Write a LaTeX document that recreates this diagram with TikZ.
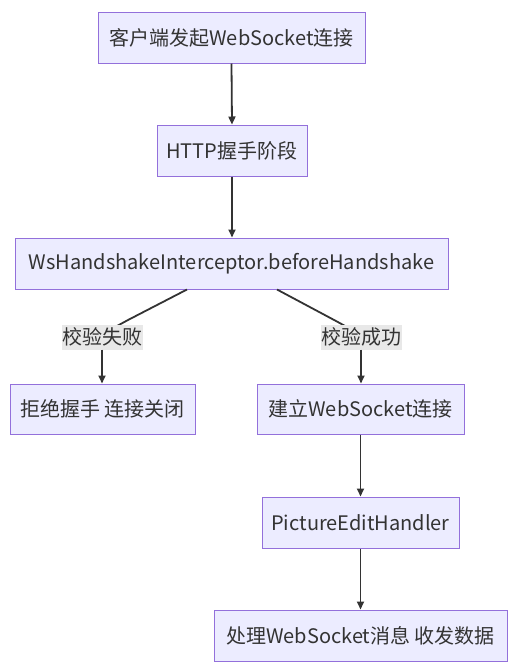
\documentclass[tikz,border=0pt]{standalone}
\usepackage{fontspec}
\setmainfont{Noto Sans CJK SC}
\usetikzlibrary{arrows.meta}
\definecolor{boxfill}{HTML}{ECECFF}
\definecolor{boxline}{HTML}{9370DB}
\definecolor{edgecol}{HTML}{333333}
\definecolor{labelbg}{HTML}{E8E8E8}
\begin{document}
\begin{tikzpicture}[x=1pt,y=-1pt,
  flowbox/.style={draw=boxline, fill=boxfill, line width=1pt, inner sep=0pt,
    minimum height=51pt, text=edgecol, font=\fontsize{20}{24}\selectfont},
  edgelabel/.style={fill=labelbg, inner sep=0pt, minimum width=81pt, minimum height=25pt,
    text=edgecol, font=\fontsize{20}{24}\selectfont},
  conn/.style={draw=edgecol, line width=1.8pt},
  arr/.style={conn, -{Triangle[length=8pt,width=7pt]}}]
\useasboundingbox (0,0) rectangle (517,670);
\node[flowbox, minimum width=267pt] (b1) at (231.5,37.5) {客户端发起WebSocket连接};
\node[flowbox, minimum width=150pt] (b2) at (232,150.5) {HTTP握手阶段};
\node[flowbox, minimum width=433pt] (b3) at (231.5,263.5) {WsHandshakeInterceptor.beforeHandshake};
\node[flowbox, minimum width=185pt, minimum height=50pt] (b4) at (102.5,409) {拒绝握手 连接关闭};
\node[flowbox, minimum width=207pt, minimum height=50pt] (b5) at (360.5,409) {建立WebSocket连接};
\node[flowbox, minimum width=197pt] (b6) at (360.5,522.5) {PictureEditHandler};
\node[flowbox, minimum width=293pt] (b7) at (360.5,635.5) {处理WebSocket消息 收发数据};
\draw[arr] (b1.south) -- (b2.north);
\draw[arr] (b2.south) -- (b3.north -| b2.south);
\coordinate (l1) at (102,337);
\coordinate (l2) at (361,337);
\draw[conn] ([xshift=-44.5pt]b3.south) -- (128,320) .. controls (106,332) and (102,334) .. (l1);
\draw[conn] ([xshift=45.5pt]b3.south) -- (336,321) .. controls (356,332) and (361,334) .. (l2);
\node[edgelabel] (t1) at (l1) {校验失败};
\node[edgelabel] (t2) at (l2) {校验成功};
\draw[arr] (t1.south) -- (t1.south |- b4.north);
\draw[arr] (t2.south) -- (t2.south |- b5.north);
\draw[arr] (b5.south) -- (b6.north);
\draw[arr] (b6.south) -- (b7.north);
\end{tikzpicture}
\end{document}
